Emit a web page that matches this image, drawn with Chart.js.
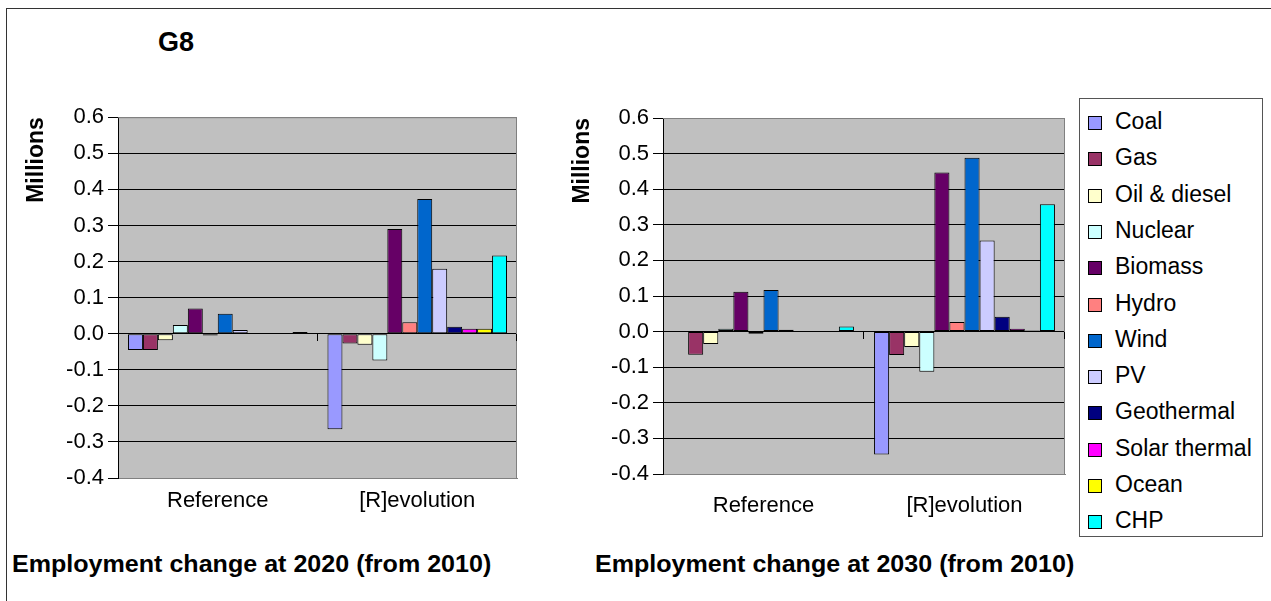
<!DOCTYPE html>
<html>
<head>
<meta charset="utf-8">
<script src="https://cdn.jsdelivr.net/npm/chart.js@4.4.0/dist/chart.umd.min.js"></script>
<style>
  body { margin: 0; background: #fff; width: 1271px; height: 601px; position: relative; overflow: hidden; font-family: 'Liberation Sans', Arial, sans-serif; color: #000; }
  #frame { position: absolute; left: 6px; top: 8px; width: 1300px; height: 700px; border-top: 1px solid #333; border-left: 1px solid #333; }
  canvas { position: absolute; }
  #c2020 { left: 0; top: 100px; }
  #c2030 { left: 545px; top: 100px; }
  .txt { position: absolute; font-weight: bold; white-space: nowrap; line-height: 1; }
  #g8 { left: 158px; top: 29px; font-size: 27px; }
  .foot { font-size: 23px; transform: scaleX(1.09); transform-origin: left center; }
  #foot2020 { left: 12px; top: 553px; }
  #foot2030 { left: 595px; top: 553px; }
  #legend { position: absolute; left: 1079px; top: 98px; width: 182px; height: 437px; border: 1px solid #555; }
  .item { position: absolute; left: 8px; font-size: 23px; height: 26px; line-height: 26px; white-space: nowrap; }
  .sw { display: inline-block; width: 12px; height: 12px; border: 1px solid #000; margin-right: 13px; vertical-align: -1px; }
</style>
</head>
<body>
<div id="frame"></div>
<div class="txt" id="g8">G8</div>
<canvas id="c2020" width="530" height="420"></canvas>
<canvas id="c2030" width="530" height="420"></canvas>
<div class="txt foot" id="foot2020">Employment change at 2020 (from 2010)</div>
<div class="txt foot" id="foot2030">Employment change at 2030 (from 2010)</div>
<div id="legend"></div>
<script>
// categories et séries (millions d'emplois)
const categories = ['Reference', '[R]evolution'];
const sources = ['Coal', 'Gas', 'Oil & diesel', 'Nuclear', 'Biomass', 'Hydro', 'Wind', 'PV', 'Geothermal', 'Solar thermal', 'Ocean', 'CHP'];
const colors = ['#9999FF', '#993366', '#FFFFCC', '#CCFFFF', '#660066', '#FF8080', '#0066CC', '#CCCCFF', '#000080', '#FF00FF', '#FFFF00', '#00FFFF'];

const ref2020 = [-0.045, -0.045, -0.018, 0.024, 0.070, -0.005, 0.055, 0.010, 0, 0, 0, 0.005];
const rev2020 = [-0.265, -0.027, -0.031, -0.074, 0.290, 0.032, 0.373, 0.180, 0.019, 0.014, 0.014, 0.217];
const ref2030 = [0, -0.065, -0.035, 0.008, 0.112, -0.006, 0.117, 0.005, 0, 0, 0, 0.014];
const rev2030 = [-0.345, -0.066, -0.043, -0.113, 0.447, 0.027, 0.488, 0.256, 0.042, 0.008, 0.003, 0.358];

const yMin = -0.4, yMax = 0.6, yStep = 0.1;

Chart.defaults.font.family = "'Liberation Sans', Arial, sans-serif";
Chart.defaults.color = '#000';

// fond gris + cadre + petites graduations sur la ligne du zéro
const plotArea = {
  id: 'plotArea',
  beforeDraw(chart) {
    const { ctx, chartArea: a } = chart;
    ctx.save();
    ctx.fillStyle = '#C0C0C0';
    ctx.fillRect(a.left, a.top, a.width, a.height);
    ctx.restore();
  },
  beforeDatasetsDraw(chart) {
    const { ctx, chartArea: a, scales } = chart;
    ctx.save();
    ctx.lineWidth = 1;
    ctx.strokeStyle = '#808080';
    ctx.beginPath();
    ctx.moveTo(a.left, a.top + 0.5);
    ctx.lineTo(a.right - 0.5, a.top + 0.5);
    ctx.lineTo(a.right - 0.5, a.bottom);
    ctx.stroke();
    const y0 = Math.round(scales.y.getPixelForValue(0));
    ctx.strokeStyle = '#000';
    ctx.beginPath();
    for (let i = 0; i < categories.length; i++) {
      const x = Math.round(scales.x.getPixelForValue(i + 0.5)) - 0.5;
      ctx.moveTo(x, y0);
      ctx.lineTo(x, y0 + 7);
    }
    ctx.stroke();
    ctx.restore();
  }
};

function makeChart(id, refVals, revVals, o) {
  const datasets = sources.map((name, i) => ({
    label: name,
    data: [refVals[i], revVals[i]],
    backgroundColor: colors[i],
    borderColor: '#000',
    borderWidth: 1,
    borderSkipped: false,
    categoryPercentage: 0.9,
    barPercentage: 1.0
  }));
  return new Chart(document.getElementById(id), {
    type: 'bar',
    data: { labels: categories, datasets },
    plugins: [plotArea],
    options: {
      responsive: false,
      animation: false,
      layout: { padding: { top: o.top, right: o.right, left: 0, bottom: 0 } },
      plugins: { legend: { display: false }, tooltip: { enabled: false } },
      scales: {
        x: {
          grid: { display: false },
          border: { color: '#808080' },
          ticks: { font: { size: 22 }, padding: o.xPad, maxRotation: 0 },
          afterFit: s => { s.height = o.xHeight; }
        },
        y: {
          min: yMin,
          max: yMax,
          ticks: { stepSize: yStep, font: { size: 22 }, padding: 4, callback: v => v.toFixed(1) },
          grid: {
            color: c => (c.tick && (Math.abs(c.tick.value - yMax) < 1e-9 || Math.abs(c.tick.value - yMin) < 1e-9)) ? '#808080' : '#000',
            tickColor: '#000',
            tickLength: 10
          },
          border: { color: '#000' },
          title: {
            display: true,
            text: 'Millions',
            align: 'end',
            font: { size: 23, weight: 'bold' },
            padding: { top: o.titlePad, bottom: 0 }
          },
          afterFit: s => { s.width = 118; }
        }
      }
    }
  });
}

makeChart('c2020', ref2020, rev2020, { top: 17, right: 13, xHeight: 42, xPad: 2, titlePad: 23 });
makeChart('c2030', ref2030, rev2030, { top: 18, right: 10, xHeight: 46, xPad: 11, titlePad: 24 });

// légende
const legend = document.getElementById('legend');
sources.forEach((name, i) => {
  const item = document.createElement('div');
  item.className = 'item';
  item.style.top = (9 + i * 36.3) + 'px';
  item.innerHTML = '<span class="sw" style="background:' + colors[i] + '"></span>' + name;
  legend.appendChild(item);
});
</script>
</body>
</html>
